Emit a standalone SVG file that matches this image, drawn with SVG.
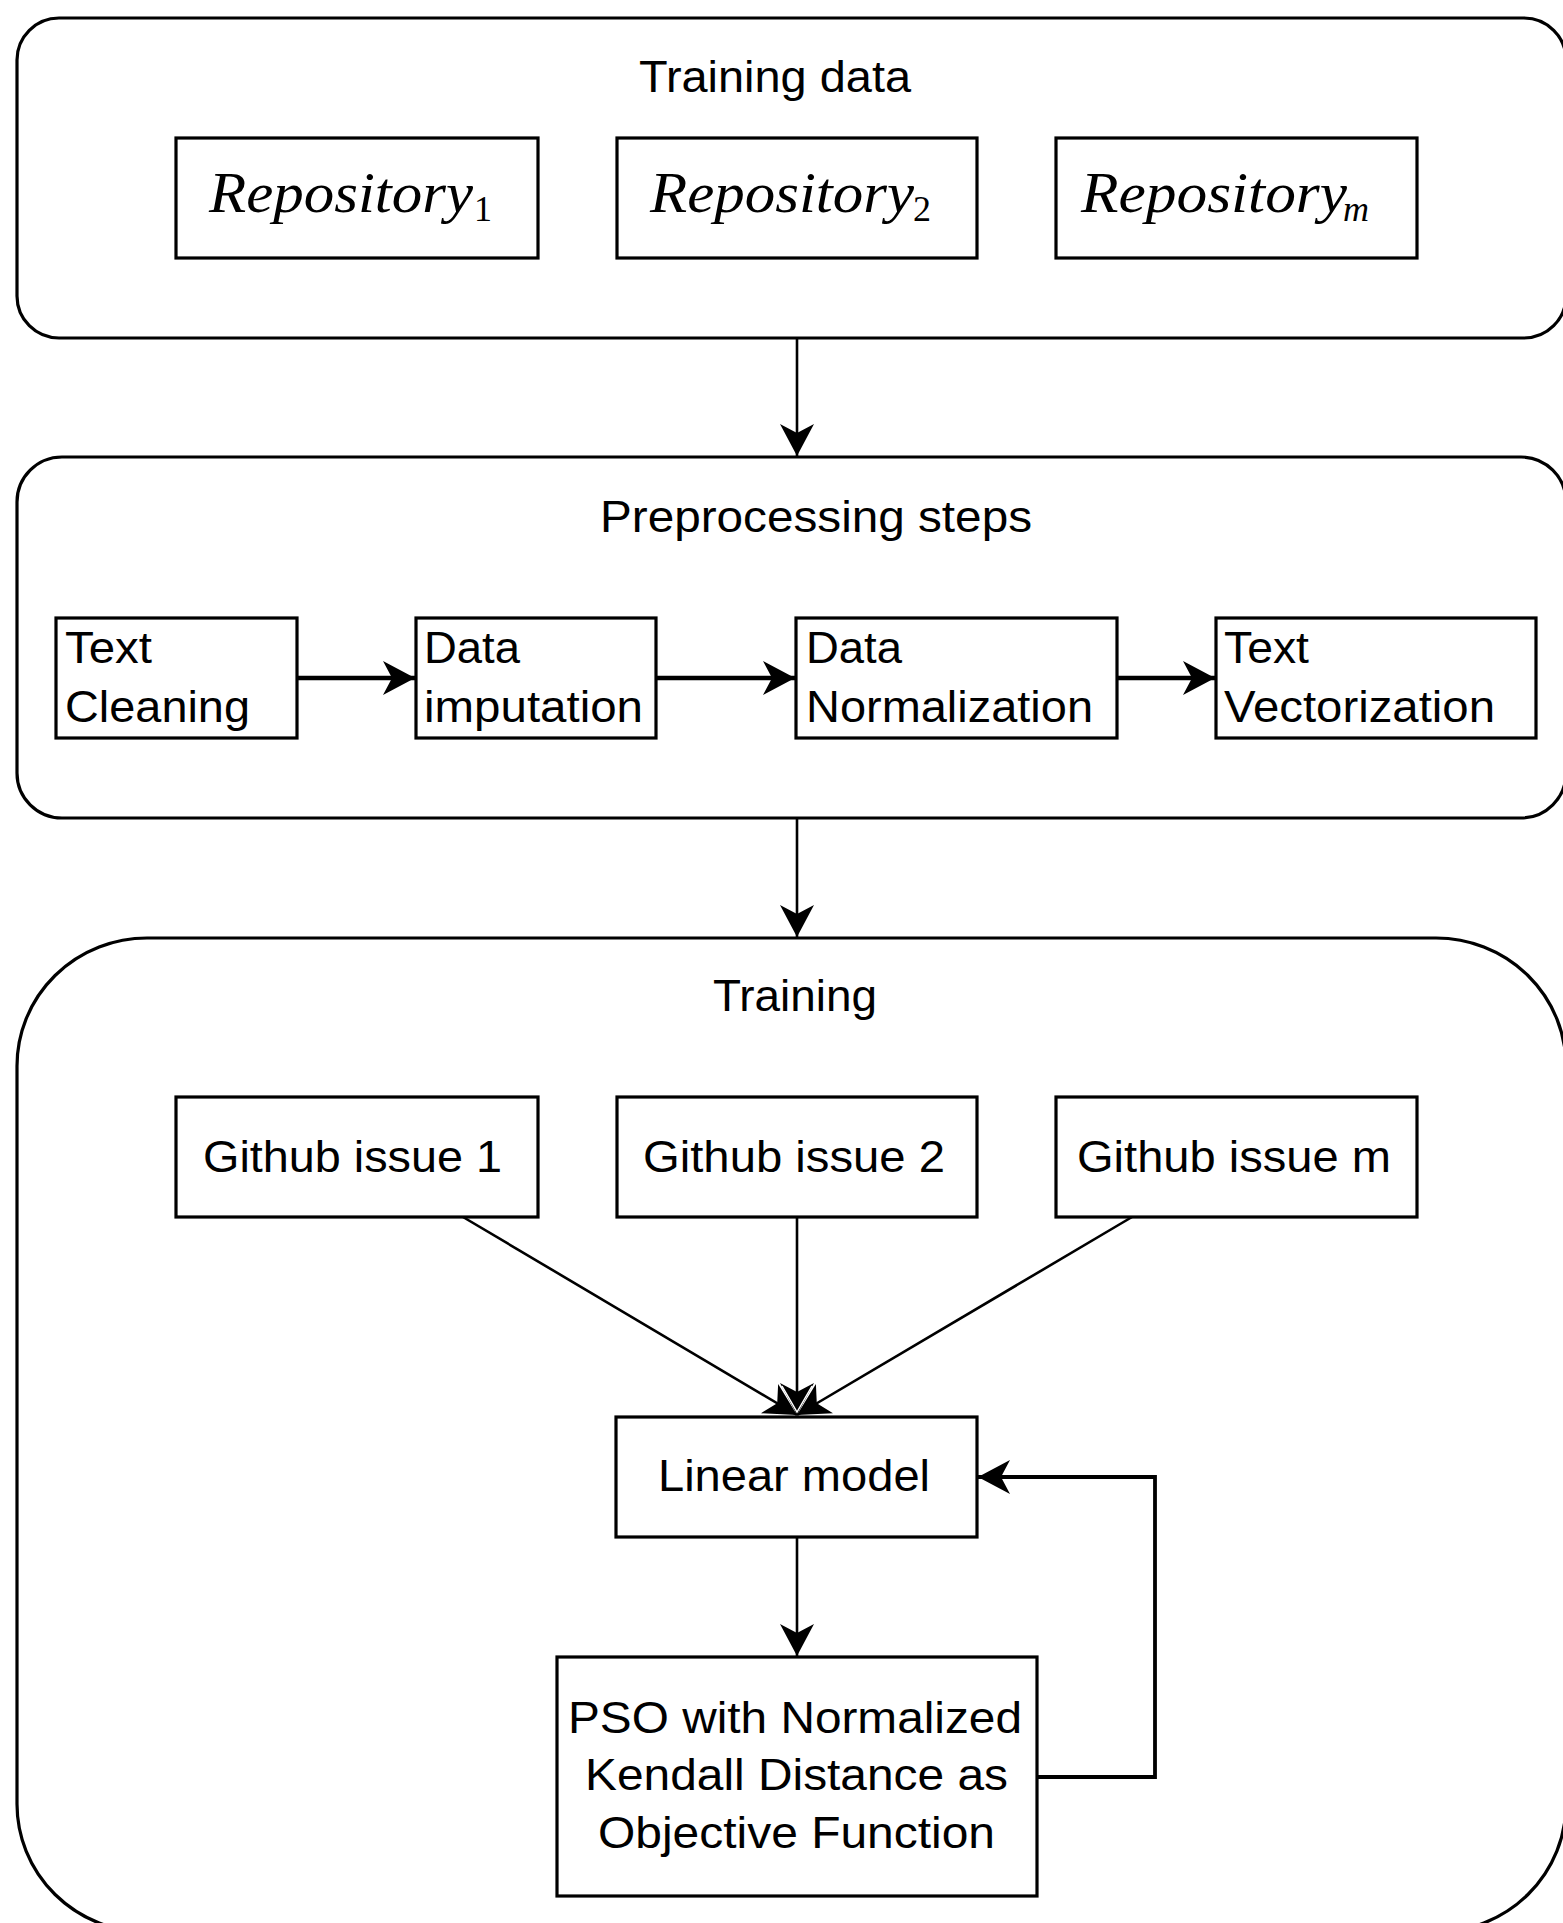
<svg xmlns="http://www.w3.org/2000/svg" width="1563" height="1923" viewBox="0 0 1563 1923">
<style>
.frame{fill:none;stroke:#000;stroke-width:3.2}
.box{fill:#fff;stroke:#000;stroke-width:3.2}
.t{font-family:"Liberation Sans",Arial,sans-serif;font-size:45px;fill:#000}
.m{font-family:"Liberation Serif","Times New Roman",serif;font-style:italic;font-size:56px;fill:#000}
.sub{font-family:"Liberation Serif","Times New Roman",serif;font-style:italic;font-size:36px;fill:#000}
.sub1{font-family:"Liberation Serif","Times New Roman",serif;font-size:36px;fill:#000}
.c{fill:none;stroke:#000;stroke-width:2.6}
.thick{stroke-width:4.5}
</style>
<defs>
<marker id="arr" viewBox="-32 -17 32 34" refX="0" refY="0" markerWidth="32" markerHeight="34" markerUnits="userSpaceOnUse" orient="auto">
<path d="M0,0 L-32,-17 L-23,0 L-32,17 Z" fill="#000"/>
</marker>
</defs>
<rect x="0" y="0" width="1563" height="1923" fill="#fff"/>

<g id="training-data">
<rect class="frame" x="17" y="18" width="1549" height="320" rx="42" ry="42"/>
<text class="t" x="639" y="92" textLength="272" lengthAdjust="spacingAndGlyphs">Training data</text>
</g>
<g id="repo1">
<rect class="box" x="176" y="138" width="362" height="120"/>
<text class="m" x="209" y="212" textLength="264" lengthAdjust="spacingAndGlyphs">Repository</text>
<text class="sub1" x="474" y="221">1</text>
</g>
<g id="repo2">
<rect class="box" x="617" y="138" width="360" height="120"/>
<text class="m" x="650" y="212" textLength="264" lengthAdjust="spacingAndGlyphs">Repository</text>
<text class="sub1" x="913" y="221">2</text>
</g>
<g id="repom">
<rect class="box" x="1056" y="138" width="361" height="120"/>
<text class="m" x="1081" y="212" textLength="266" lengthAdjust="spacingAndGlyphs">Repository</text>
<text class="sub" x="1343" y="221">m</text>
</g>

<g id="preprocessing">
<rect class="frame" x="17" y="457" width="1549" height="361" rx="45" ry="45"/>
<text class="t" x="600" y="532" textLength="432" lengthAdjust="spacingAndGlyphs">Preprocessing steps</text>
</g>
<g id="text-cleaning">
<rect class="box" x="56" y="618" width="241" height="120"/>
<text class="t" x="65" y="663" textLength="87" lengthAdjust="spacingAndGlyphs">Text</text>
<text class="t" x="65" y="722" textLength="185" lengthAdjust="spacingAndGlyphs">Cleaning</text>
</g>
<g id="data-imputation">
<rect class="box" x="416" y="618" width="240" height="120"/>
<text class="t" x="424" y="663" textLength="96" lengthAdjust="spacingAndGlyphs">Data</text>
<text class="t" x="424" y="722" textLength="219" lengthAdjust="spacingAndGlyphs">imputation</text>
</g>
<g id="data-normalization">
<rect class="box" x="796" y="618" width="321" height="120"/>
<text class="t" x="806" y="663" textLength="96" lengthAdjust="spacingAndGlyphs">Data</text>
<text class="t" x="806" y="722" textLength="287" lengthAdjust="spacingAndGlyphs">Normalization</text>
</g>
<g id="text-vectorization">
<rect class="box" x="1216" y="618" width="320" height="120"/>
<text class="t" x="1224" y="663" textLength="85" lengthAdjust="spacingAndGlyphs">Text</text>
<text class="t" x="1224" y="722" textLength="271" lengthAdjust="spacingAndGlyphs">Vectorization</text>
</g>

<g id="training">
<rect class="frame" x="17" y="938" width="1549" height="994" rx="130" ry="128"/>
<text class="t" x="713" y="1011" textLength="164" lengthAdjust="spacingAndGlyphs">Training</text>
</g>
<g id="issue1">
<rect class="box" x="176" y="1097" width="362" height="120"/>
<text class="t" x="203" y="1172" textLength="299" lengthAdjust="spacingAndGlyphs">Github issue 1</text>
</g>
<g id="issue2">
<rect class="box" x="617" y="1097" width="360" height="120"/>
<text class="t" x="643" y="1172" textLength="302" lengthAdjust="spacingAndGlyphs">Github issue 2</text>
</g>
<g id="issuem">
<rect class="box" x="1056" y="1097" width="361" height="120"/>
<text class="t" x="1077" y="1172" textLength="314" lengthAdjust="spacingAndGlyphs">Github issue m</text>
</g>
<g id="linear-model">
<rect class="box" x="616" y="1417" width="361" height="120"/>
<text class="t" x="658" y="1491" textLength="272" lengthAdjust="spacingAndGlyphs">Linear model</text>
</g>
<g id="pso">
<rect class="box" x="557" y="1657" width="480" height="239"/>
<text class="t" x="568" y="1733" textLength="454" lengthAdjust="spacingAndGlyphs">PSO with Normalized</text>
<text class="t" x="585" y="1790" textLength="423" lengthAdjust="spacingAndGlyphs">Kendall Distance as</text>
<text class="t" x="598" y="1848" textLength="397" lengthAdjust="spacingAndGlyphs">Objective Function</text>
</g>

<g id="connectors">
<line class="c" x1="797" y1="338" x2="797" y2="456" marker-end="url(#arr)"/>
<line class="c" x1="797" y1="818" x2="797" y2="937" marker-end="url(#arr)"/>
<line class="c thick" x1="297" y1="678" x2="415" y2="678" marker-end="url(#arr)"/>
<line class="c thick" x1="656" y1="678" x2="795" y2="678" marker-end="url(#arr)"/>
<line class="c thick" x1="1117" y1="678" x2="1215" y2="678" marker-end="url(#arr)"/>
<line class="c" x1="463" y1="1217" x2="797" y2="1415" marker-end="url(#arr)"/>
<line class="c" x1="1132" y1="1217" x2="797" y2="1415" marker-end="url(#arr)"/>
<line class="c" x1="797" y1="1217" x2="797" y2="1415" marker-end="url(#arr)"/>
<polyline points="782,1386 797,1412 812,1386" fill="none" stroke="#fff" stroke-width="1.5"/>
<line class="c" x1="797" y1="1537" x2="797" y2="1656" marker-end="url(#arr)"/>
<polyline class="c" style="stroke-width:3.8" points="1037,1777 1155,1777 1155,1477 978,1477" marker-end="url(#arr)"/>
</g>
</svg>
